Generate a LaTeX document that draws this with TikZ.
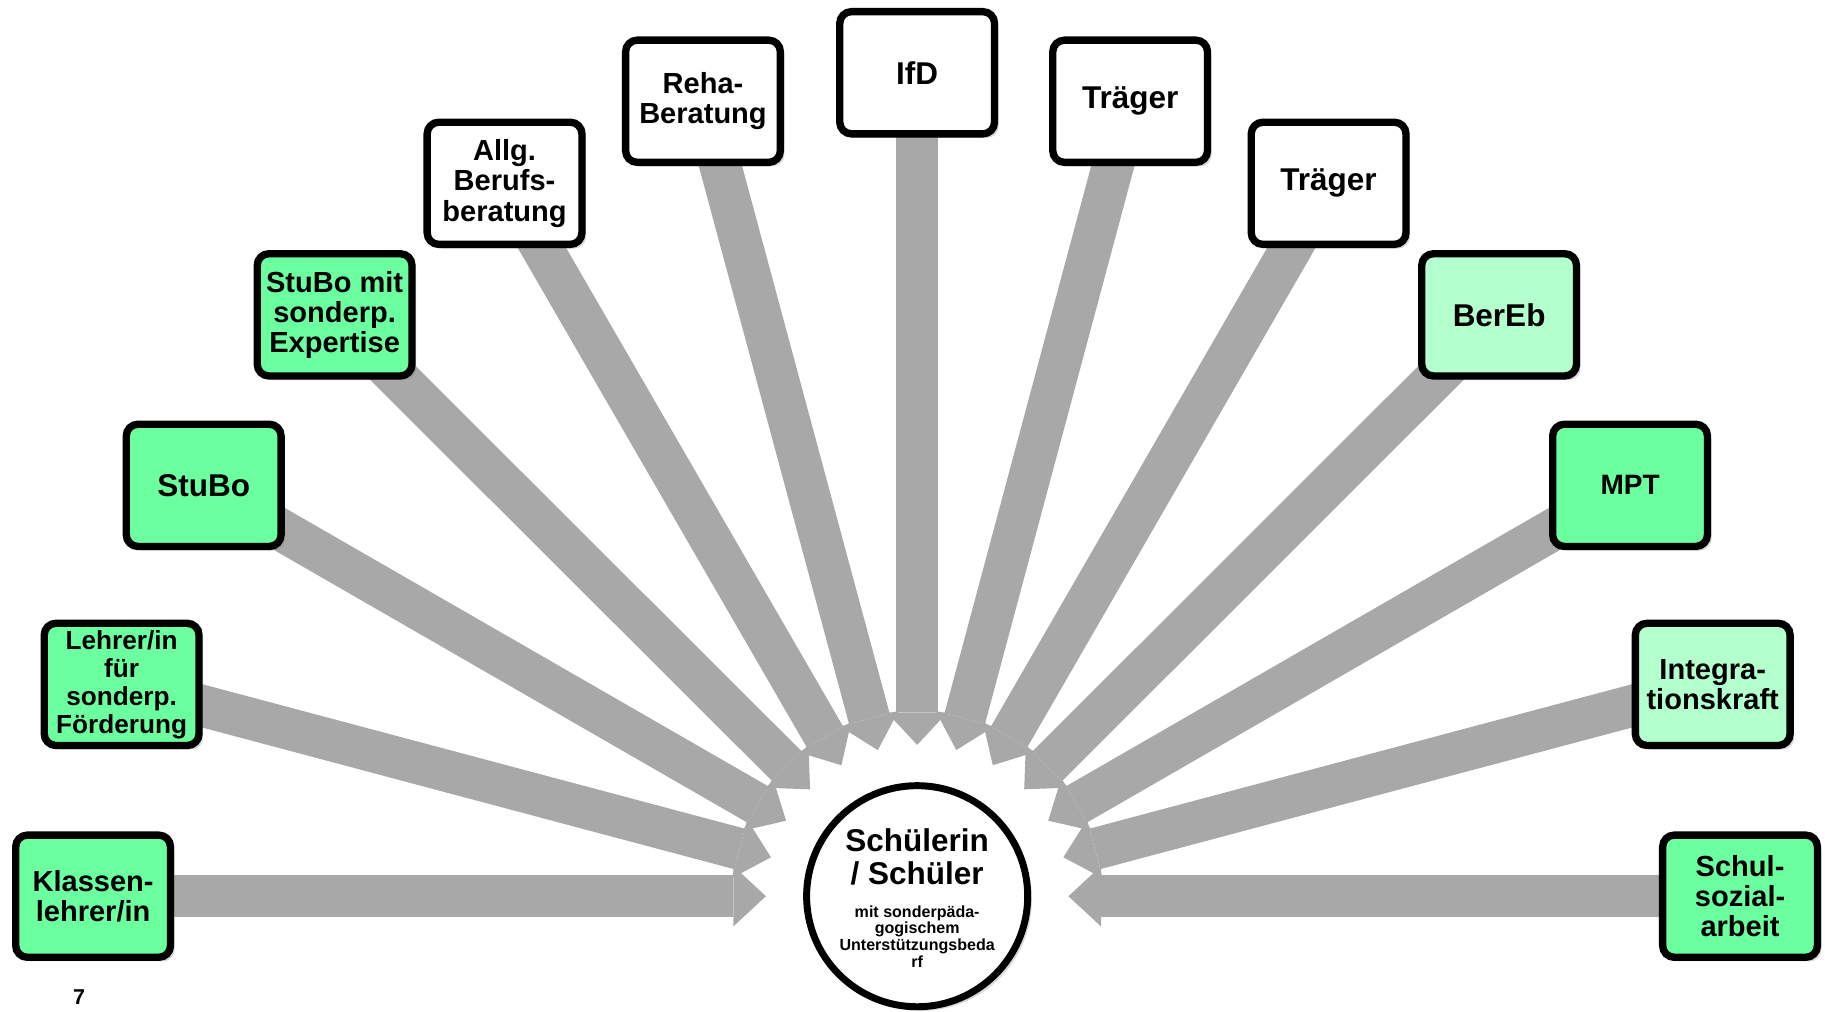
\documentclass[tikz,border=0pt]{standalone}
\usepackage{fontspec}
\setmainfont{Liberation Sans}
\usetikzlibrary{positioning}
\usetikzlibrary{arrows.meta}
\usetikzlibrary{shadows}
\usetikzlibrary{backgrounds}
\definecolor{mint}{HTML}{6CFFA0}
\definecolor{palemint}{HTML}{B3FFCE}
\definecolor{arrowgray}{HTML}{A8A8A8}
\tikzset{akteur/.style={draw, rectangle, rounded corners=0.2cm, line width=3.6pt, minimum width=2.66cm, minimum height=2.1cm, inner sep=0pt, align=center, fill=white, font=\bfseries\fontsize{14.2}{14.8}\selectfont, drop shadow={shadow xshift=2pt, shadow yshift=-2pt, opacity=0.3}}}
\tikzset{gross/.style={font=\bfseries\fontsize{15.4}{16}\selectfont}}
\tikzset{zu/.style={line width=0.72cm, arrowgray, -{Triangle[width=1.04cm,length=0.56cm,line width=0pt]}, shorten >=2.6cm}}

\begin{document}
\begin{tikzpicture}[x=0.02cm, y=-0.02cm]
\useasboundingbox (0,0) rectangle (1568,869);
\node[draw, circle, line width=3.4pt, minimum size=3.8cm, fill=white, drop shadow={shadow xshift=2pt, shadow yshift=-2pt, opacity=0.3}] (sus) at (788,770) {};
\node[gross, align=center] (susname) at (788,736) {Schülerin\\/ Schüler};
\node[font=\bfseries\fontsize{7.85}{8.1}\selectfont, align=center] (susinfo) at (788,804.5) {mit sonderpäda-\\gogischem\\Unterstützungsbeda\\rf};

\node[akteur, fill=mint] (klassen) at (80,770) {Klassen-\\lehrer/in};
\node[akteur, fill=mint, font=\bfseries\fontsize{12.8}{13.7}\selectfont] (lehrer) at (104.5,588) {Lehrer/in\\für\\sonderp.\\Förderung};
\node[akteur, fill=mint, gross] (stubo) at (175,417) {StuBo};
\node[akteur, fill=mint] (stubos) at (287.5,270.5) {StuBo mit\\sonderp.\\Expertise};
\node[akteur] (allg) at (433.5,157.5) {Allg.\\Berufs-\\beratung};
\node[akteur] (reha) at (604,87) {Reha-\\Beratung};
\node[akteur, gross] (ifd) at (788,62.5) {IfD};
\node[akteur, gross] (traegerA) at (971,87) {Träger};
\node[akteur, gross] (traegerB) at (1141.5,157.5) {Träger};
\node[akteur, fill=palemint, gross] (bereb) at (1288,270.5) {BerEb};
\node[akteur, fill=mint, font=\bfseries\fontsize{13.7}{14.5}\selectfont] (mpt) at (1400.5,417) {MPT};
\node[akteur, fill=palemint] (integra) at (1471.5,588) {Integra-\\tionskraft};
\node[akteur, fill=mint] (schulsoz) at (1495,770) {Schul-\\sozial-\\arbeit};

\node[font=\bfseries\fontsize{10.5}{12}\selectfont] (seite) at (68,857) {7};

\begin{pgfonlayer}{background}
\draw[zu] (klassen.center) -- (sus.center);
\draw[zu] (lehrer.center) -- (sus.center);
\draw[zu] (stubo.center) -- (sus.center);
\draw[zu] (stubos.center) -- (sus.center);
\draw[zu] (allg.center) -- (sus.center);
\draw[zu] (reha.center) -- (sus.center);
\draw[zu] (ifd.center) -- (sus.center);
\draw[zu] (traegerA.center) -- (sus.center);
\draw[zu] (traegerB.center) -- (sus.center);
\draw[zu] (bereb.center) -- (sus.center);
\draw[zu] (mpt.center) -- (sus.center);
\draw[zu] (integra.center) -- (sus.center);
\draw[zu] (schulsoz.center) -- (sus.center);
\end{pgfonlayer}
\end{tikzpicture}
\end{document}
